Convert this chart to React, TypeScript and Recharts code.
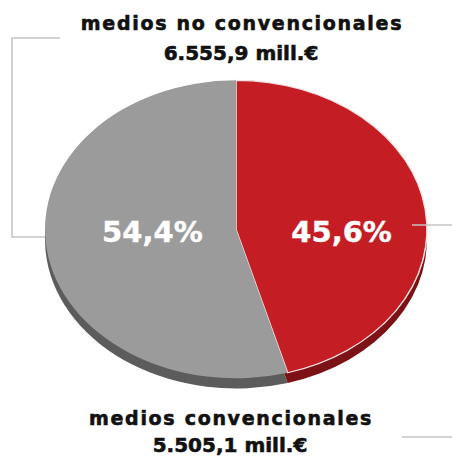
import React from 'react';
import { PieChart, Pie, Cell } from 'recharts';

// ---- data ----
const names: string[] = ['medios convencionales', 'medios no convencionales'];
const values: number[] = [5505.1, 6555.9];
const unit = 'mill.€';
const faceColors: string[] = ['#c41d23', '#9b9b9b'];
const sideColors: string[] = ['#7c1216', '#5c5c5c'];
const edgeColors: string[] = ['#f2e4e4', 'none'];

const K = 0.78; // vertical squash to fake 3D tilt
const FONT = "'DejaVu Sans', Verdana, sans-serif";

const total = values.reduce((a, b) => a + b, 0);
const fmtNum = (v: number) => {
  const [i, d] = v.toFixed(1).split('.');
  return i.replace(/\B(?=(\d{3})+(?!\d))/g, '.') + ',' + d;
};
const fmtPct = (v: number) => ((v / total) * 100).toFixed(1).replace('.', ',') + '%';

const data = names.map((name, i) => ({ name, value: values[i] }));

const renderLabel = (props: any) => {
  const { cx, cy, midAngle, outerRadius, value } = props;
  const r = outerRadius * 0.5;
  const a = (-midAngle * Math.PI) / 180;
  const x = cx + r * Math.cos(a) + 11;
  const y = cy + 3;
  return (
    <text
      transform={`translate(${x},${y}) scale(1,${1 / K})`}
      x={0}
      y={0}
      textAnchor="middle"
      dominantBaseline="central"
      fill="#ffffff"
      stroke="#ffffff"
      strokeWidth={0.4}
      fontFamily={FONT}
      fontWeight="bold"
      fontSize={29}
    >
      {fmtPct(value)}
    </text>
  );
};

export default function App() {
  const W = 452;
  const H = 460;
  const cx = 236;
  const cy = 294;
  const R = 191;
  const depth = 13;
  const titleStyle = { fontFamily: FONT, fontWeight: 'bold' as const, fill: '#111', stroke: '#111', strokeWidth: 0.6 };
  return (
    <div style={{ position: 'absolute', left: 0, top: 0, width: W, height: H, background: '#fff', overflow: 'hidden' }}>
      <div style={{ position: 'absolute', left: 0, top: 0, width: W, height: 500, transform: `scaleY(${K})`, transformOrigin: '0 0' }}>
        <PieChart width={W} height={500} margin={{ top: 0, right: 0, bottom: 0, left: 0 }}>
          <Pie
            data={data}
            dataKey="value"
            nameKey="name"
            cx={cx}
            cy={cy + depth}
            outerRadius={R}
            startAngle={90}
            endAngle={-270}
            stroke="none"
            label={false}
            labelLine={false}
            isAnimationActive={false}
          >
            {data.map((d, i) => (
              <Cell key={`s-${i}`} fill={sideColors[i]} />
            ))}
          </Pie>
          <Pie
            data={data}
            dataKey="value"
            nameKey="name"
            cx={cx}
            cy={cy}
            outerRadius={R}
            startAngle={90}
            endAngle={-270}
            strokeWidth={1.5}
            label={renderLabel}
            labelLine={false}
            isAnimationActive={false}
          >
            {data.map((d, i) => (
              <Cell key={`f-${i}`} fill={faceColors[i]} stroke={edgeColors[i]} />
            ))}
          </Pie>
        </PieChart>
      </div>
      <svg width={W} height={H} style={{ position: 'absolute', left: 0, top: 0, pointerEvents: 'none' }}>
        <polyline points="60,38 12,38 12,237 45,237" fill="none" stroke="#c4c4c4" strokeWidth={1.5} />
        <line x1={412} y1={225} x2={452} y2={225} stroke="#c4c4c4" strokeWidth={1.5} />
        <line x1={402} y1={437} x2={452} y2={437} stroke="#c4c4c4" strokeWidth={1.5} />
        <text x={242} y={30} textAnchor="middle" fontSize={19} letterSpacing={1.7} {...titleStyle}>
          {names[1]}
        </text>
        <text x={241} y={60} textAnchor="middle" fontSize={20} {...titleStyle}>
          {fmtNum(values[1])} {unit}
        </text>
        <text x={231} y={425} textAnchor="middle" fontSize={19} letterSpacing={1.7} {...titleStyle}>
          {names[0]}
        </text>
        <text x={230} y={452} textAnchor="middle" fontSize={20} {...titleStyle}>
          {fmtNum(values[0])} {unit}
        </text>
      </svg>
    </div>
  );
}
